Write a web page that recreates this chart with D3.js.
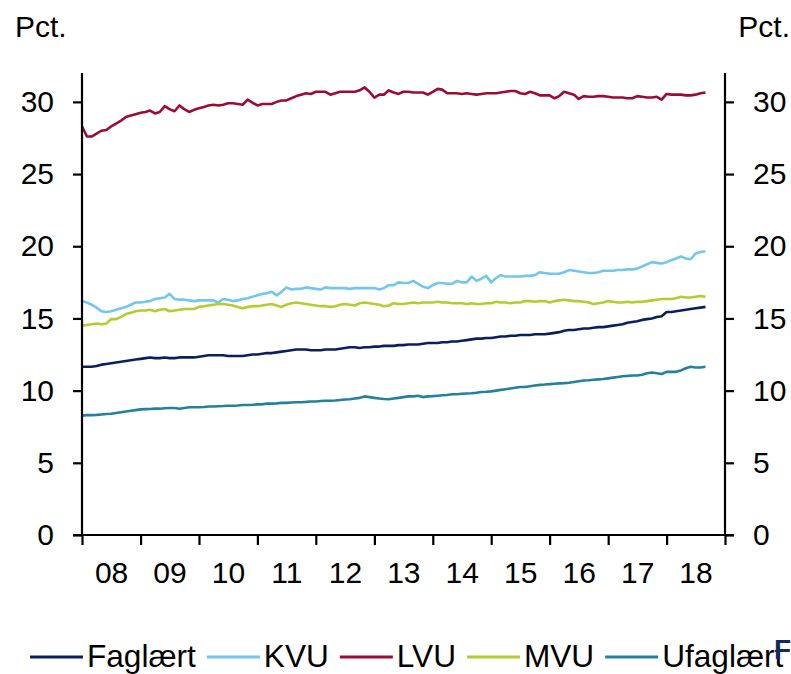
<!DOCTYPE html>
<html>
<head>
<meta charset="utf-8">
<script src="https://cdn.jsdelivr.net/npm/d3@7"></script>
<style>
  html, body { margin: 0; padding: 0; background: #fff; }
  svg text { font-family: "Liberation Sans", Arial, "Helvetica", sans-serif; fill: #000; }
</style>
</head>
<body>
<svg id="chart" width="791" height="674"></svg>
<script>
// ---------- DATA (monthly, Jan 2008 - Sep 2018) ----------
const startYear = 2008;
const yearTickLabels = ["08","09","10","11","12","13","14","15","16","17","18"];
const yTicks = [0, 5, 10, 15, 20, 25, 30];
const seriesNames = ["Faglært", "KVU", "LVU", "MVU", "Ufaglært"];

const faglaert = [
  11.65,11.65,11.65,11.7,11.8,11.85,11.9,11.95,12.0,12.05,12.1,12.15,
  12.2,12.25,12.3,12.25,12.25,12.3,12.25,12.25,12.3,12.3,12.3,12.3,
  12.35,12.4,12.45,12.45,12.45,12.45,12.4,12.4,12.4,12.4,12.45,12.5,
  12.5,12.55,12.6,12.6,12.65,12.7,12.75,12.8,12.85,12.85,12.85,12.8,
  12.8,12.8,12.85,12.85,12.85,12.9,12.95,13.0,13.0,12.95,13.0,13.0,
  13.05,13.05,13.1,13.1,13.1,13.15,13.15,13.2,13.2,13.2,13.25,13.3,
  13.3,13.3,13.35,13.35,13.4,13.4,13.45,13.5,13.55,13.6,13.6,13.65,
  13.65,13.7,13.75,13.75,13.8,13.8,13.85,13.85,13.85,13.9,13.9,13.9,
  13.95,14.0,14.05,14.15,14.2,14.2,14.25,14.3,14.3,14.35,14.4,14.4,
  14.45,14.5,14.55,14.6,14.7,14.75,14.8,14.9,14.95,15.0,15.1,15.15,
  15.45,15.45,15.5,15.55,15.6,15.65,15.7,15.75,15.8
];
const kvu = [
  16.2,16.1,15.95,15.75,15.5,15.45,15.5,15.6,15.7,15.8,15.95,16.1,
  16.1,16.15,16.2,16.35,16.4,16.45,16.7,16.35,16.3,16.3,16.25,16.2,
  16.25,16.25,16.25,16.25,16.1,16.35,16.3,16.2,16.25,16.35,16.4,16.5,
  16.6,16.7,16.75,16.85,16.6,16.85,17.15,17.0,17.05,17.05,17.15,17.1,
  17.05,17.0,17.15,17.1,17.1,17.1,17.1,17.05,17.1,17.1,17.1,17.1,
  17.1,17.0,17.1,17.3,17.3,17.5,17.45,17.45,17.6,17.4,17.2,17.1,
  17.3,17.45,17.45,17.4,17.4,17.6,17.5,17.5,17.9,17.6,17.75,17.95,
  17.5,17.8,18.0,17.9,17.9,17.9,17.9,17.95,17.95,18.0,18.2,18.15,
  18.1,18.1,18.1,18.2,18.35,18.3,18.25,18.2,18.15,18.15,18.2,18.3,
  18.3,18.3,18.35,18.35,18.4,18.4,18.45,18.6,18.75,18.9,18.85,18.8,
  18.9,19.05,19.15,19.3,19.15,19.1,19.5,19.6,19.65
];
const lvu = [
  28.3,27.6,27.6,27.8,28.0,28.05,28.3,28.5,28.7,28.95,29.05,29.15,
  29.25,29.3,29.4,29.2,29.3,29.7,29.5,29.35,29.75,29.5,29.3,29.45,
  29.55,29.65,29.75,29.8,29.75,29.8,29.9,29.9,29.85,29.8,30.15,29.95,
  29.75,29.85,29.85,29.85,30.0,30.1,30.1,30.25,30.4,30.5,30.6,30.55,
  30.7,30.7,30.7,30.5,30.6,30.7,30.7,30.7,30.7,30.8,31.0,30.7,
  30.3,30.5,30.5,30.8,30.65,30.55,30.7,30.7,30.65,30.65,30.65,30.5,
  30.7,30.9,30.85,30.6,30.6,30.6,30.55,30.6,30.55,30.5,30.55,30.6,
  30.6,30.6,30.65,30.7,30.75,30.75,30.6,30.55,30.7,30.6,30.45,30.45,
  30.45,30.25,30.4,30.7,30.6,30.5,30.2,30.4,30.35,30.35,30.4,30.4,
  30.35,30.3,30.3,30.3,30.25,30.25,30.4,30.35,30.3,30.3,30.35,30.15,
  30.55,30.5,30.5,30.5,30.45,30.45,30.5,30.6,30.65
];
const mvu = [
  14.5,14.55,14.6,14.65,14.6,14.65,14.95,14.95,15.1,15.3,15.4,15.5,
  15.55,15.55,15.6,15.5,15.6,15.65,15.5,15.55,15.6,15.65,15.65,15.65,
  15.8,15.85,15.9,15.95,16.0,16.0,15.95,15.9,15.8,15.7,15.8,15.85,
  15.85,15.9,15.95,16.0,15.9,15.8,15.95,16.05,16.1,16.05,16.0,15.95,
  15.9,15.85,15.85,15.8,15.85,15.95,16.0,15.95,15.9,16.05,16.1,16.05,
  16.0,15.95,15.85,15.9,16.05,16.0,16.0,16.05,16.1,16.05,16.1,16.1,
  16.1,16.15,16.1,16.1,16.05,16.05,16.05,16.0,16.05,16.0,16.0,16.05,
  16.05,16.15,16.1,16.1,16.05,16.1,16.1,16.2,16.2,16.15,16.2,16.2,
  16.1,16.2,16.25,16.3,16.25,16.2,16.2,16.15,16.1,16.0,16.05,16.1,
  16.2,16.15,16.1,16.1,16.15,16.1,16.15,16.15,16.2,16.25,16.3,16.35,
  16.35,16.35,16.4,16.5,16.45,16.45,16.5,16.55,16.5
];
const ufaglaert = [
  8.27,8.3,8.3,8.32,8.35,8.38,8.4,8.45,8.5,8.55,8.6,8.65,
  8.7,8.72,8.73,8.75,8.75,8.78,8.8,8.8,8.75,8.8,8.85,8.85,
  8.85,8.87,8.9,8.9,8.92,8.93,8.95,8.95,8.97,9.0,9.0,9.02,
  9.05,9.05,9.1,9.1,9.12,9.15,9.15,9.18,9.2,9.2,9.22,9.25,
  9.25,9.28,9.3,9.3,9.32,9.35,9.38,9.4,9.45,9.5,9.6,9.55,
  9.5,9.45,9.42,9.4,9.45,9.5,9.55,9.6,9.6,9.65,9.55,9.6,
  9.62,9.65,9.68,9.7,9.75,9.75,9.78,9.8,9.82,9.85,9.9,9.92,
  9.95,10.0,10.05,10.1,10.15,10.2,10.25,10.25,10.3,10.35,10.4,10.42,
  10.45,10.48,10.5,10.52,10.55,10.6,10.65,10.7,10.72,10.75,10.78,10.8,
  10.85,10.9,10.95,11.0,11.02,11.05,11.05,11.1,11.2,11.25,11.2,11.15,
  11.3,11.3,11.3,11.4,11.55,11.65,11.6,11.6,11.65
];

// ---------- STYLE / LAYOUT ----------
const colors = {
  "Faglært": "#0b1f5e",
  "KVU": "#72c7ea",
  "LVU": "#9c0b35",
  "MVU": "#b3cc2e",
  "Ufaglært": "#23809f"
};
const seriesData = {
  "Faglært": faglaert, "KVU": kvu, "LVU": lvu, "MVU": mvu, "Ufaglært": ufaglaert
};

const svg = d3.select("#chart");
const plotLeft = 82, plotRight = 725, plotTop = 73, plotBottom = 535;
const FS = 30;

const x = d3.scaleTime()
  .domain([new Date(startYear, 0, 1), new Date(startYear + yearTickLabels.length, 0, 1)])
  .range([plotLeft, plotRight]);
const y = d3.scaleLinear().domain([0, 32]).range([plotBottom, plotTop]);

const dateOf = i => new Date(startYear, i, 1);

const line = d3.line()
  .x((d, i) => x(dateOf(i)))
  .y(d => y(d))
  .curve(d3.curveLinear);

seriesNames.forEach(name => {
  svg.append("path")
    .datum(seriesData[name])
    .attr("d", line)
    .attr("fill", "none")
    .attr("stroke", colors[name])
    .attr("stroke-width", 2.6)
    .attr("stroke-linejoin", "round")
    .attr("stroke-linecap", "butt");
});

// Left axis
const yAxisL = d3.axisLeft(y).tickValues(yTicks).tickSize(9).tickPadding(19).tickFormat(d3.format("d"));
const gL = svg.append("g").attr("transform", `translate(${plotLeft},0)`).call(yAxisL);
// Right axis
const yAxisR = d3.axisRight(y).tickValues(yTicks).tickSize(9).tickPadding(19).tickFormat(d3.format("d"));
const gR = svg.append("g").attr("transform", `translate(${plotRight},0)`).call(yAxisR);

// Bottom axis: year-start ticks
const yearStarts = d3.range(yearTickLabels.length + 1).map(k => new Date(startYear + k, 0, 1));
const xAxisTicks = d3.axisBottom(x).tickValues(yearStarts).tickSize(10).tickFormat("");
const gB = svg.append("g").attr("transform", `translate(0,${plotBottom})`).call(xAxisTicks);
// Bottom labels centred mid-year
const midYears = yearTickLabels.map((lab, k) => new Date(startYear + k, 6, 1));
const xAxisLabels = d3.axisBottom(x).tickValues(midYears).tickSize(0).tickPadding(27)
  .tickFormat((d, i) => yearTickLabels[i]);
const gBL = svg.append("g").attr("transform", `translate(0,${plotBottom})`).call(xAxisLabels);
gBL.select(".domain").remove();

[gL, gR, gB, gBL].forEach(g => {
  g.selectAll("path.domain").attr("stroke", "#000").attr("stroke-width", 2.2);
  g.selectAll(".tick line").attr("stroke", "#000").attr("stroke-width", 2.2);
  g.selectAll("text").attr("font-size", FS).attr("font-family", '"Liberation Sans", Arial, sans-serif').attr("fill", "#000");
});
gL.select(".domain").attr("d", `M0,${plotBottom}V${plotTop}`);
gR.select(".domain").attr("d", `M0,${plotBottom}V${plotTop}`);
gB.select(".domain").attr("d", `M${plotLeft - 9},0H${plotRight + 9}`);

// Unit labels
svg.append("text").attr("x", 15).attr("y", 37).attr("font-size", FS).text("Pct.");
svg.append("text").attr("x", 790).attr("y", 37).attr("font-size", FS).attr("text-anchor", "end").text("Pct.");

// Legend
const legend = svg.append("g");
let lx = 30;
const ly = 657;
seriesNames.forEach(name => {
  legend.append("line")
    .attr("x1", lx).attr("x2", lx + 53)
    .attr("y1", ly).attr("y2", ly)
    .attr("stroke", colors[name]).attr("stroke-width", 3.2);
  const t = legend.append("text")
    .attr("x", lx + 57).attr("y", ly + 10)
    .attr("font-size", 31.6)
    .text(name);
  const w = t.node().getComputedTextLength();
  lx = lx + 57 + w + 11;
});

// clipped corner text fragment (cut off at the right edge in the reference)
svg.append("text").attr("x", 774).attr("y", 659).attr("font-size", 28)
  .attr("font-weight", "bold").style("fill", "#14285f").text("F");
</script>
</body>
</html>
